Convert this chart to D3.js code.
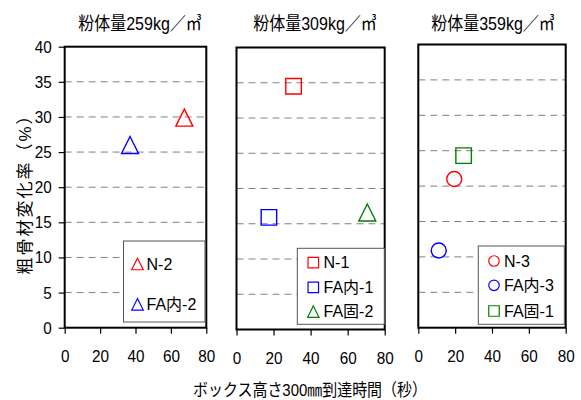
<!DOCTYPE html>
<html><head><meta charset="utf-8">
<script src="https://cdn.jsdelivr.net/npm/d3@7"></script>
<style>
body{margin:0;background:#fff;}
text{font-family:"Liberation Sans","Noto Sans CJK JP",sans-serif;}
</style></head>
<body><svg id="c" width="581" height="400"></svg>
<script>
// ---- data ----
const panelTitles = ["粉体量259kg／㎥", "粉体量309kg／㎥", "粉体量359kg／㎥"];
const seriesNames = ["N-2", "FA内-2", "N-1", "FA内-1", "FA固-2", "N-3", "FA内-3", "FA固-1"];
const seriesPanel = [0, 0, 1, 1, 1, 2, 2, 2];
const seriesX = [67.6, 36.9, 30.8, 17.5, 70.6, 19.5, 11.1, 24.6];
const seriesY = [29.9, 26.0, 34.5, 15.9, 16.6, 21.0, 10.9, 24.3];
const xTicks = [0, 20, 40, 60, 80];
const yTicks = [0, 5, 10, 15, 20, 25, 30, 35, 40];
const gridTicks = [5, 10, 15, 20, 25, 30, 35];
const yLabel = "粗骨材変化率（%）";
const xLabel = "ボックス高さ300㎜到達時間（秒）";

// ---- styles / layout ----
const seriesColor = ["#ff0000", "#0000ff", "#ff0000", "#0000ff", "#008000", "#ff0000", "#0000ff", "#008000"];
const seriesShape = ["tri", "tri", "sq", "sq", "tri", "circ", "circ", "sq"];
const panels = [
  {x0: 64.7, x1: 206.3, yb: 327.7, yt: 46.7, tx: 140, leg: {x: 123.5, y: 241, w: 81.5, h: 81, rows: [264, 304.3], mx: 137.5, tx: 146.5}},
  {x0: 236.5, x1: 384.7, yb: 329.5, yt: 47.5, tx: 315, leg: {x: 297.3, y: 248.3, w: 87, h: 76, rows: [262.7, 287.3, 311.7], mx: 313.3, tx: 323.5}},
  {x0: 418.3, x1: 565.7, yb: 327.7, yt: 44.5, tx: 493, leg: {x: 478.3, y: 246, w: 86, h: 78.3, rows: [261, 285.3, 311], mx: 494, tx: 504}}
];

const svg = d3.select("#c");

function markerPath(shape, s) {
  const h = s / 2;
  if (shape === "tri") return `M0,${-h}L${h},${h}L${-h},${h}Z`;
  if (shape === "sq") return `M${-h},${-h}H${h}V${h}H${-h}Z`;
  return `M${h},0A${h},${h} 0 1,1 ${-h},0A${h},${h} 0 1,1 ${h},0Z`;
}
const bigSize = {tri: 17, sq: 15.5, circ: 15};
const legSize = {tri: 11.5, sq: 10.5, circ: 10.5};

panels.forEach((p, pi) => {
  const x = d3.scaleLinear().domain([0, 80]).range([p.x0, p.x1]);
  const y = d3.scaleLinear().domain([0, 40]).range([p.yb, p.yt]);
  const g = svg.append("g");

  // gridlines
  g.selectAll("line.grid").data(gridTicks).join("line")
    .attr("x1", p.x0).attr("x2", p.x1)
    .attr("y1", d => y(d)).attr("y2", d => y(d))
    .attr("stroke", "#808080").attr("stroke-width", 1)
    .attr("stroke-dasharray", "7,5");

  // x axis
  const xa = g.append("g").attr("transform", `translate(0,${p.yb})`)
    .call(d3.axisBottom(x).tickValues(xTicks).tickSize(6).tickPadding(16));
  xa.select(".domain").remove();
  xa.selectAll("line").attr("stroke", "#000").attr("stroke-width", 1.2);
  xa.selectAll("text").attr("font-size", 17).attr("fill", "#000")
    .attr("transform", "scale(0.9,1)")
    .style("font-family", "'Liberation Sans',sans-serif");

  if (pi === 0) {
    const ya = g.append("g").attr("transform", `translate(${p.x0},0)`)
      .call(d3.axisLeft(y).tickValues(yTicks).tickSize(6).tickPadding(8));
    ya.select(".domain").remove();
    ya.selectAll("line").attr("stroke", "#000").attr("stroke-width", 1.2);
    ya.selectAll("text").attr("font-size", 17).attr("fill", "#000")
      .attr("x", -14.5).attr("transform", "scale(0.9,1)")
      .style("font-family", "'Liberation Sans',sans-serif");
  }

  // frame
  g.append("rect").attr("x", p.x0).attr("y", p.yt)
    .attr("width", p.x1 - p.x0).attr("height", p.yb - p.yt)
    .attr("fill", "none").attr("stroke", "#000").attr("stroke-width", 2);

  // title
  g.append("text").attr("transform", `translate(${p.tx},29.5) scale(0.89,1)`)
    .attr("text-anchor", "middle")
    .attr("font-size", 18).attr("fill", "#000").text(panelTitles[pi]);

  // points
  const idx = seriesNames.map((_, i) => i).filter(i => seriesPanel[i] === pi);
  g.selectAll("path.pt").data(idx).join("path")
    .attr("transform", i => `translate(${x(seriesX[i])},${y(seriesY[i])})`)
    .attr("d", i => markerPath(seriesShape[i], bigSize[seriesShape[i]]))
    .attr("fill", "none").attr("stroke", i => seriesColor[i]).attr("stroke-width", 1.4);

  // legend
  const L = p.leg;
  g.append("rect").attr("x", L.x).attr("y", L.y).attr("width", L.w).attr("height", L.h)
    .attr("fill", "#fff").attr("stroke", "#555").attr("stroke-width", 1);
  idx.forEach((i, k) => {
    g.append("path").attr("transform", `translate(${L.mx},${L.rows[k]})`)
      .attr("d", markerPath(seriesShape[i], legSize[seriesShape[i]]))
      .attr("fill", "none").attr("stroke", seriesColor[i]).attr("stroke-width", 1.2);
    g.append("text").attr("x", L.tx).attr("y", L.rows[k]).attr("dy", "0.36em")
      .attr("font-size", 16).attr("fill", "#000").text(seriesNames[i]);
  });
});

// axis titles
svg.append("text").attr("transform", "translate(31,190) rotate(-90)")
  .attr("text-anchor", "middle").attr("font-size", 17).attr("letter-spacing", 2)
  .attr("fill", "#000").text(yLabel);
svg.append("text").attr("transform", "translate(310,396) scale(0.88,1)")
  .attr("text-anchor", "middle")
  .attr("font-size", 17).attr("fill", "#000").text(xLabel);
</script></body></html>
